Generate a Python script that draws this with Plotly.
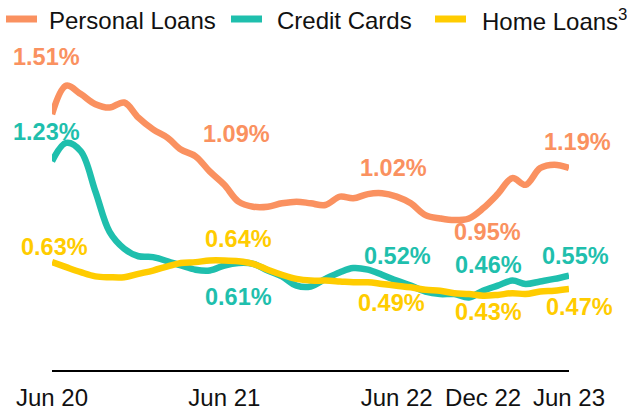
import plotly.graph_objects as go

# ---- data ----
months = ["2020-06", "2020-07", "2020-08", "2020-09", "2020-10", "2020-11", "2020-12",
          "2021-01", "2021-02", "2021-03", "2021-04", "2021-05", "2021-06",
          "2021-07", "2021-08", "2021-09", "2021-10", "2021-11", "2021-12",
          "2022-01", "2022-02", "2022-03", "2022-04", "2022-05", "2022-06",
          "2022-07", "2022-08", "2022-09", "2022-10", "2022-11", "2022-12",
          "2023-01", "2023-02", "2023-03", "2023-04", "2023-05", "2023-06"]

personal_loans = [1.51, 1.68, 1.63, 1.57, 1.55, 1.58, 1.49, 1.42, 1.37, 1.30, 1.26, 1.17, 1.09,
                  0.99, 0.96, 0.96, 0.98, 0.99, 0.98, 0.97, 1.02, 1.01, 1.035, 1.04, 1.02,
                  0.98, 0.91, 0.89, 0.88, 0.89, 0.95, 1.035, 1.13, 1.09, 1.19, 1.21, 1.19]

credit_cards = [1.23, 1.34, 1.29, 1.05, 0.81, 0.71, 0.665, 0.66, 0.635, 0.61, 0.585, 0.58, 0.61,
                0.625, 0.62, 0.58, 0.545, 0.49, 0.485, 0.53, 0.57, 0.595, 0.585, 0.555, 0.52,
                0.49, 0.455, 0.44, 0.44, 0.42, 0.46, 0.49, 0.52, 0.50, 0.515, 0.53, 0.55]

home_loans = [0.63, 0.60, 0.57, 0.545, 0.54, 0.54, 0.56, 0.58, 0.605, 0.625, 0.63, 0.64, 0.64,
              0.635, 0.62, 0.585, 0.555, 0.53, 0.52, 0.52, 0.515, 0.51, 0.51, 0.50, 0.49,
              0.48, 0.465, 0.46, 0.445, 0.44, 0.43, 0.435, 0.445, 0.44, 0.455, 0.46, 0.47]

tick_vals = ["2020-06", "2021-06", "2022-06", "2022-12", "2023-06"]
tick_text = ["Jun 20", "Jun 21", "Jun 22", "Dec 22", "Jun 23"]

series_names = ["Personal Loans", "Credit Cards", "Home Loans<sup>3</sup>"]
series_values = [personal_loans, credit_cards, home_loans]
series_colors = ["#FA9160", "#1FBFAD", "#FFCC00"]

# labelled months and pixel offsets for each series label (dx, dy)
label_months = ["2020-06", "2021-06", "2022-06", "2022-12", "2023-06"]
label_offsets = [
    [(-6, 57), (12, 51), (-3, 29), (4, -24), (8, 26)],     # personal loans
    [(-6, 29), (14, -32), (1, 25), (5, 26), (6, 20)],      # credit cards
    [(2, 15), (14, 21), (-5, -17), (5, -16), (10, -18)],   # home loans
]

# ---- layout constants (pixels) ----
W, H = 627, 412
ML, MR, MT, MB = 52, 58, 40, 42
PW, PH = W - ML - MR, H - MT - MB
LEG_BAR_X = [6, 231, 435]      # legend swatch left edges
LEG_BAR_LEN = 31
LEG_TEXT_X = [47, 275, 480]
LEG_BAR_Y = 19
LEG_TEXT_Y = 20

FONT = "Liberation Sans, Arial, sans-serif"


def px_x(p):
    return (p - ML) / PW


def px_y(p):
    return (H - MB - p) / PH


fig = go.Figure()
for name, vals, col in zip(series_names, series_values, series_colors):
    fig.add_trace(go.Scatter(
        x=months, y=vals, name=name, mode="lines",
        line=dict(color=col, width=6.5, shape="spline", smoothing=1.0),
        hoverinfo="skip", showlegend=False,
    ))

annotations = []
shapes = []
for vals, col, offs in zip(series_values, series_colors, label_offsets):
    for m, (dx, dy) in zip(label_months, offs):
        v = vals[months.index(m)]
        annotations.append(dict(
            x=m, y=v, xref="x", yref="y", text=f"<b>{v:.2f}%</b>",
            showarrow=False, xshift=dx, yshift=dy,
            font=dict(family=FONT, size=23.5, color=col),
        ))

# legend (manual, one row across the top)
for name, col, bx, tx in zip(series_names, series_colors, LEG_BAR_X, LEG_TEXT_X):
    shapes.append(dict(
        type="line", xref="paper", yref="paper",
        x0=px_x(bx), x1=px_x(bx + LEG_BAR_LEN), y0=px_y(LEG_BAR_Y), y1=px_y(LEG_BAR_Y),
        line=dict(color=col, width=7),
    ))
    annotations.append(dict(
        x=px_x(tx), y=px_y(LEG_TEXT_Y), xref="paper", yref="paper",
        xanchor="left", yanchor="middle", text=name, showarrow=False,
        font=dict(family=FONT, size=24, color="#111111"),
    ))

fig.update_layout(
    width=W, height=H,
    margin=dict(l=ML, r=MR, t=MT, b=MB, autoexpand=False),
    paper_bgcolor="white", plot_bgcolor="white",
    showlegend=False,
    hovermode=False,
    annotations=annotations,
    shapes=shapes,
    xaxis=dict(
        range=["2020-06-01", "2023-06-01"],
        tickvals=tick_vals, ticktext=tick_text,
        showgrid=False, zeroline=False, automargin=False,
        showline=True, linecolor="#000000", linewidth=2,
        ticks="", ticklabelstandoff=5,
        tickfont=dict(family=FONT, size=24, color="#111111"),
    ),
    yaxis=dict(
        range=[-0.012, 1.952], visible=False, showgrid=False, zeroline=False,
        automargin=False,
    ),
)

fig.write_html(
    "out.html",
    config={"displayModeBar": False, "staticPlot": True},
    post_script="document.body.style.margin='0';document.body.style.overflow='hidden';",
)
